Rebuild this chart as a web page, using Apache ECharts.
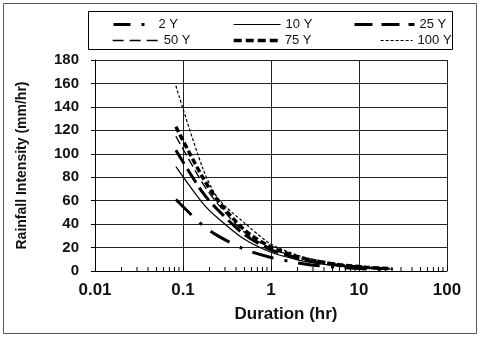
<!DOCTYPE html>
<html>
<head>
<meta charset="utf-8">
<script src="https://cdn.jsdelivr.net/npm/echarts@6/dist/echarts.min.js"></script>
<style>
html, body { margin: 0; padding: 0; background: #fff; }
#chart { width: 480px; height: 338px; }
</style>
</head>
<body>
<div id="chart"></div>
<script>
// durations in hours
var durations = [0.083, 0.167, 0.25, 0.5, 1, 2, 3, 6, 12, 24];
// intensity (mm/hr) per return period
var y2   = [61, 39, 30, 18.5, 11.5, 7, 5, 3, 1.8, 1.1];
var y10  = [89, 58, 45, 27, 16, 9.5, 7, 4.2, 2.6, 1.5];
var y25  = [103, 67, 52, 31, 18, 11, 8, 4.8, 2.9, 1.7];
var y50  = [115, 75, 57, 33, 19.5, 11.8, 8.6, 5.1, 3.1, 1.8];
var y75  = [123, 80, 60, 35, 20.5, 12.3, 9, 5.4, 3.3, 1.9];
var y100 = [158, 88, 62, 41, 23, 13.5, 10, 6, 3.5, 2.1];
var xTicks = [0.01, 0.1, 1, 10, 100];
var minorTicks = [0.02, 0.03, 0.04, 0.05, 0.06, 0.07, 0.08, 0.09,
                  0.2, 0.3, 0.4, 0.5, 0.6, 0.7, 0.8, 0.9,
                  2, 3, 4, 5, 6, 7, 8, 9,
                  20, 30, 40, 50, 60, 70, 80, 90];

var FONT = 'Liberation Sans, Arial, sans-serif';

// line looks per series: [width, dash]
var looks = {
    '2 Y':   [3, [22, 11, 3, 11]],
    '10 Y':  [1.2, 'solid'],
    '25 Y':  [3, [16, 6]],
    '50 Y':  [1.3, [9, 4]],
    '75 Y':  [3.5, [6, 3]],
    '100 Y': [1.2, [3, 2]]
};

function pairs(arr) {
    return durations.map(function (d, i) { return [d, arr[i]]; });
}

function mkSeries(name, arr) {
    return {
        name: name,
        type: 'line',
        data: pairs(arr),
        symbol: 'none',
        smooth: 0.3,
        silent: true,
        itemStyle: { color: '#000' },
        lineStyle: { color: '#000', width: looks[name][0], type: looks[name][1] }
    };
}

function mkLegend(name, left, top, w, dash) {
    return {
        data: [name],
        left: left,
        top: top,
        padding: 0,
        itemWidth: w,
        itemHeight: 10,
        itemStyle: { opacity: 0 },
        lineStyle: { color: '#000', width: looks[name][0], type: dash || looks[name][1] },
        textStyle: { fontFamily: FONT, fontSize: 13, color: '#111' }
    };
}

var chart = echarts.init(document.getElementById('chart'));
var option = {
    animation: false,
    backgroundColor: '#fff',
    graphic: [
        { type: 'rect', shape: { x: 3.5, y: 3.5, width: 473, height: 330 },
          style: { fill: 'none', stroke: '#555', lineWidth: 1 }, silent: true },
        { type: 'rect', shape: { x: 88.5, y: 11.5, width: 364, height: 38 },
          style: { fill: '#fff', stroke: '#000', lineWidth: 1 }, silent: true, z: -1 }
    ],
    legend: [
        mkLegend('2 Y', 112, 18, 40, [17, 11, 3, 11]),
        mkLegend('10 Y', 233, 18, 47),
        mkLegend('25 Y', 353, 18, 60, [18, 9]),
        mkLegend('50 Y', 112, 34, 46, [11, 6]),
        mkLegend('75 Y', 232, 34, 46, [8, 4]),
        mkLegend('100 Y', 380, 34, 32)
    ],
    grid: { left: 95, right: 33, top: 60, bottom: 67 },
    xAxis: {
        type: 'log',
        logBase: 10,
        min: 0.01,
        max: 100,
        name: 'Duration (hr)',
        nameLocation: 'middle',
        nameGap: 35,
        nameTextStyle: { fontFamily: FONT, fontSize: 17, fontWeight: 'bold', color: '#111',
                         padding: [0, 0, 0, 30] },
        axisLine: { lineStyle: { color: '#000', width: 1 } },
        axisTick: { show: true, inside: true, length: 5, lineStyle: { color: '#000' } },
        axisLabel: {
            fontFamily: FONT, fontSize: 17, fontWeight: 'bold', color: '#111', margin: 11,
            formatter: function (v) { return String(xTicks.reduce(function (a, b) {
                return Math.abs(b - v) < Math.abs(a - v) ? b : a; })); }
        },
        splitLine: { show: true, lineStyle: { color: '#222', width: 1 } }
    },
    yAxis: {
        type: 'value',
        min: 0,
        max: 180,
        interval: 20,
        name: 'Rainfall Intensity (mm/hr)',
        nameLocation: 'middle',
        nameGap: 66,
        nameTextStyle: { fontFamily: FONT, fontSize: 14, fontWeight: 'bold', color: '#111' },
        axisLine: { show: true, lineStyle: { color: '#000', width: 1 } },
        axisTick: { show: true, length: 4, lineStyle: { color: '#000' } },
        axisLabel: { fontFamily: FONT, fontSize: 15, fontWeight: 'bold', color: '#111', margin: 16 },
        splitLine: { show: true, lineStyle: { color: '#222', width: 1 } }
    },
    series: [
        mkSeries('2 Y', y2),
        mkSeries('10 Y', y10),
        mkSeries('25 Y', y25),
        mkSeries('50 Y', y50),
        mkSeries('75 Y', y75),
        mkSeries('100 Y', y100),
        {
            type: 'custom',
            silent: true,
            data: minorTicks.map(function (v) { return [v, 0]; }),
            renderItem: function (params, api) {
                var p = api.coord([api.value(0), 0]);
                return {
                    type: 'line',
                    shape: { x1: p[0], y1: p[1], x2: p[0], y2: p[1] - 4 },
                    style: { stroke: '#000', lineWidth: 1 }
                };
            }
        }
    ]
};
chart.setOption(option);
</script>
</body>
</html>
